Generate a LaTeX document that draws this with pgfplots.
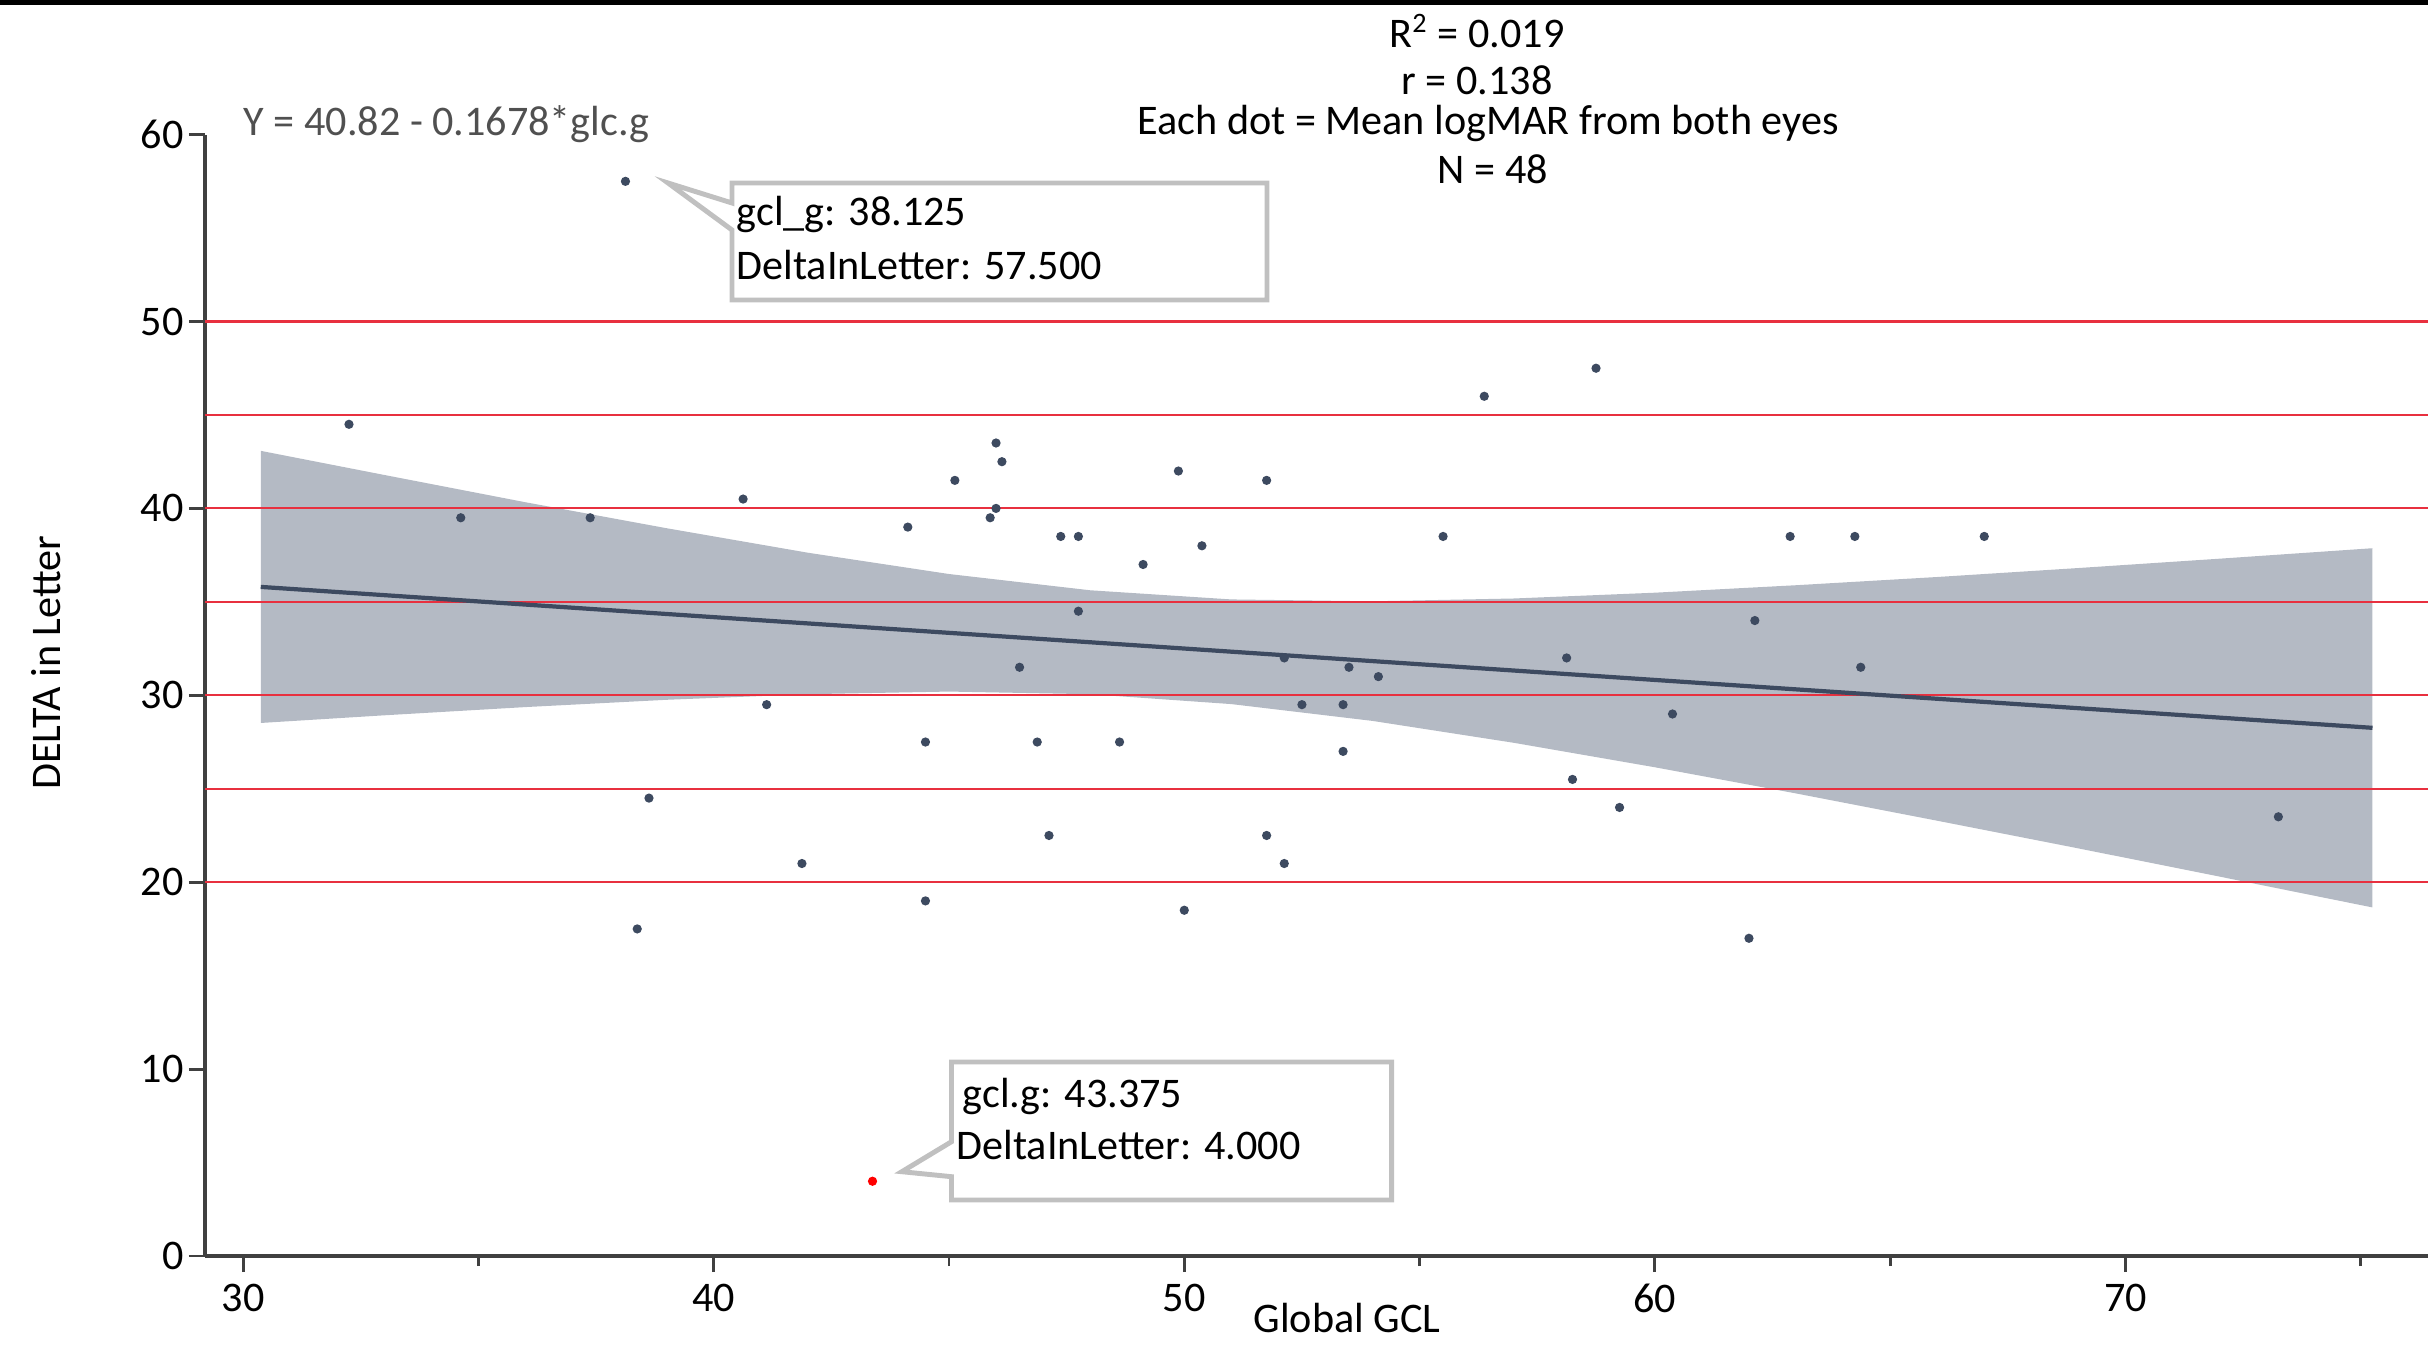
\documentclass[border=0pt]{standalone}
\usepackage{fontspec}
\setmainfont{Carlito}
\usepackage{pgfplots}
\pgfplotsset{compat=1.18}
\definecolor{dotc}{HTML}{3D4A60}
\definecolor{bandc}{HTML}{B4BAC4}
\definecolor{redl}{HTML}{E8303F}
\definecolor{axc}{HTML}{404040}
\definecolor{callc}{HTML}{C0C0C0}
\definecolor{eqc}{HTML}{505050}
\newcommand{\tf}{\fontsize{12}{14.4}\selectfont}
\begin{document}
\begin{tikzpicture}[font=\tf]
\path[use as bounding box] (0,0) rectangle (24.28cm,13.48cm);
\fill[black] (0,13.43cm) rectangle (24.28cm,13.48cm);
\begin{axis}[
  at={(2.05cm,0.92cm)}, anchor=south west,
  scale only axis, width=22.23cm, height=11.214cm,
  xmin=29.19, xmax=76.43, ymin=0, ymax=60,
  axis lines=left,
  axis line style={-, line width=1pt, color=axc},
  xtick={30,40,50,60,70},
  minor xtick={35,45,55,65,75},
  ytick={0,10,20,30,40,50,60},
  tick align=outside,
  major tick length=0.16cm, minor tick length=0.1cm,
  every tick/.style={line width=0.8pt, color=axc},
  tick label style={font=\tf, text=black},
  yticklabel style={xshift=2pt},
  /pgf/number format/assume math mode=true,
  xlabel={Global GCL},
  ylabel={DELTA in Letter},
  label style={font=\tf},
  xlabel style={at={(axis description cs:0.5137,-0.0553)}, anchor=center},
  ylabel style={at={(axis description cs:-0.0715,0.529)}, anchor=center},
  clip=false,
]
% confidence band
\addplot[fill=bandc, draw=none] coordinates {
(30.375,43.08) (33,41.79) (36,40.33) (39,38.94) (42,37.63) (45,36.49) (48,35.62) (51,35.13)
(54,35.03) (57,35.18) (60,35.49) (63,35.89) (66,36.33) (69,36.81) (72,37.31) (75.25,37.87)
(75.25,18.65) (72,20.30) (69,21.81) (66,23.29) (63,24.75) (60,26.15) (57,27.46) (54,28.63)
(51,29.53) (48,30.06) (45,30.20) (42,30.06) (39,29.76) (36,29.37) (33,28.93) (30.375,28.52)
} -- cycle;
% red reference lines
\addplot[redl, line width=0.6pt] coordinates {(29.19,20) (76.43,20)};
\addplot[redl, line width=0.6pt] coordinates {(29.19,25) (76.43,25)};
\addplot[redl, line width=0.6pt] coordinates {(29.19,30) (76.43,30)};
\addplot[redl, line width=0.6pt] coordinates {(29.19,35) (76.43,35)};
\addplot[redl, line width=0.6pt] coordinates {(29.19,40) (76.43,40)};
\addplot[redl, line width=0.6pt] coordinates {(29.19,45) (76.43,45)};
\addplot[redl, line width=0.6pt] coordinates {(29.19,50) (76.43,50)};
% regression line
\addplot[dotc, line width=1.2pt] coordinates {(30.375,35.80) (75.25,28.26)};
% data points
\addplot[only marks, mark=*, mark size=1.1pt, color=dotc] coordinates {
(32.25,44.5) (34.625,39.5) (37.375,39.5) (38.125,57.5) (38.375,17.5) (38.625,24.5)
(40.625,40.5) (41.125,29.5) (41.875,21) (44.125,39) (44.5,27.5) (44.5,19)
(45.125,41.5) (45.875,39.5) (46,40) (46,43.5) (46.125,42.5) (46.5,31.5)
(46.875,27.5) (47.125,22.5) (47.375,38.5) (47.75,38.5) (47.75,34.5) (48.625,27.5)
(49.125,37) (49.875,42) (50,18.5) (50.375,38) (51.75,22.5) (51.75,41.5)
(52.125,21) (52.125,32) (52.5,29.5) (53.375,27) (53.375,29.5) (53.5,31.5)
(54.125,31) (55.5,38.5) (56.375,46) (58.125,32) (58.25,25.5) (58.75,47.5)
(59.25,24) (60.375,29) (62,17) (62.125,34) (62.875,38.5) (64.25,38.5)
(64.375,31.5) (67,38.5) (73.25,23.5)
};
\addplot[only marks, mark=*, mark size=1.1pt, color=red] coordinates {(43.375,4.0)};
\end{axis}
% header texts
\node[inner sep=0pt] at (14.77cm,13.17cm) {R\textsuperscript{2} = 0.019};
\node[inner sep=0pt] at (14.77cm,12.68cm) {r = 0.138};
\node[inner sep=0pt] at (14.88cm,12.25cm) {Each dot = Mean logMAR from both eyes};
\node[inner sep=0pt] at (14.93cm,11.79cm) {N = 48};
\node[anchor=west, text=eqc, inner sep=0pt] at (2.43cm,12.24cm) {Y = 40.82 - 0.1678*glc.g};
% callout 1
\draw[callc, line width=1.4pt, fill=white]
  (7.32cm,11.65cm) -- (12.67cm,11.65cm) -- (12.67cm,10.48cm) -- (7.32cm,10.48cm)
  -- (7.32cm,11.18cm) -- (6.68cm,11.65cm) -- (7.32cm,11.45cm) -- cycle;
\node[anchor=west, inner sep=0pt] at (7.36cm,11.34cm) {gcl\_g: 38.125};
\node[anchor=west, inner sep=0pt] at (7.36cm,10.83cm) {DeltaInLetter: 57.500};
% callout 2
\draw[callc, line width=1.4pt, fill=white]
  (9.515cm,2.86cm) -- (13.916cm,2.86cm) -- (13.916cm,1.48cm) -- (9.515cm,1.48cm)
  -- (9.515cm,1.713cm) -- (9.018cm,1.763cm) -- (9.515cm,2.063cm) -- cycle;
\node[anchor=west, inner sep=0pt] at (9.62cm,2.513cm) {gcl.g: 43.375};
\node[anchor=west, inner sep=0pt] at (9.56cm,2.03cm) {DeltaInLetter: 4.000};
\end{tikzpicture}
\end{document}
